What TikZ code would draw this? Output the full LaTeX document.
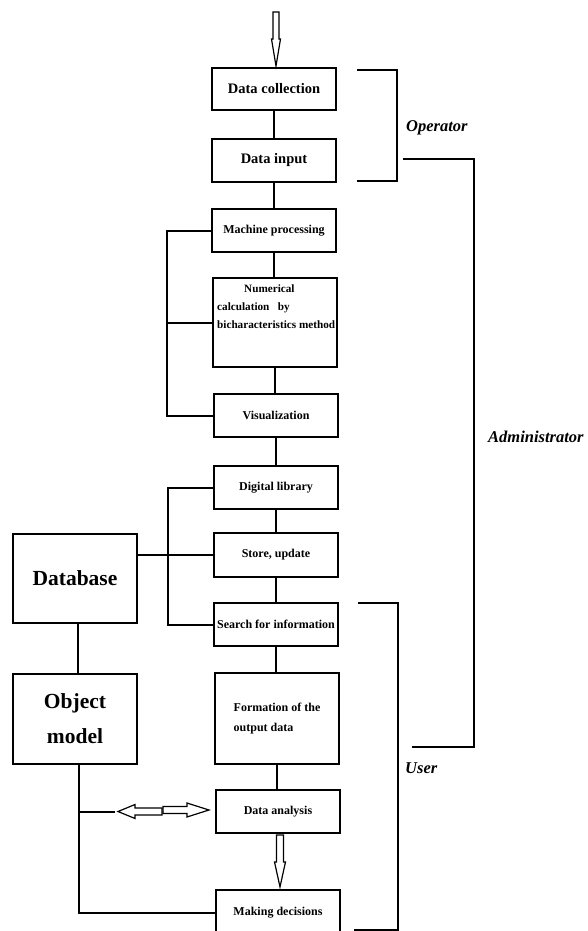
\documentclass[tikz,border=0pt]{standalone}
\usepackage{fontspec}
\setmainfont{Liberation Serif}
\begin{document}
\begin{tikzpicture}[x=1pt,y=-1pt,
  box/.style={draw,line width=2.1pt,inner sep=0pt,align=center,
    font=\bfseries\fontsize{12}{14}\selectfont},
  bigtxt/.style={font=\bfseries\fontsize{14.5}{16}\selectfont},
  hugetxt/.style={font=\bfseries\fontsize{21.5}{35}\selectfont},
  conn/.style={line width=2pt},
  brk/.style={line width=2pt},
  role/.style={font=\bfseries\itshape\fontsize{16.5}{20}\selectfont,inner sep=0pt},
  hollow/.style={draw,line width=1.2pt,fill=white,line join=miter}]
\useasboundingbox (0,0) rectangle (588,931);

% main column
\node[box,bigtxt,minimum width=124pt,minimum height=42pt] (dc) at (274,89) {Data collection};
\node[box,bigtxt,minimum width=124pt,minimum height=43pt] (di) at (274,160.5) {Data input};
\node[box,minimum width=124pt,minimum height=43pt] (mp) at (274,230.5) {Machine processing};
\node[box,minimum width=124pt,minimum height=89pt] (nc) at (275,322.5) {};
\node[anchor=north west,align=left,inner sep=0pt,
  font=\bfseries\fontsize{11.2}{18}\selectfont] (nctext) at (217,285)
  {\hspace*{27pt}Numerical\\calculation\ \ \ by\\bicharacteristics method};
\node[box,minimum width=124pt,minimum height=43pt] (vis) at (276,415.5) {Visualization};
\node[box,minimum width=124pt,minimum height=43pt] (dl) at (276,487.5) {Digital library};
\node[box,minimum width=124pt,minimum height=44pt] (su) at (276,555) {Store, update};
\node[box,minimum width=124pt,minimum height=43pt] (sfi) at (276,624.5) {Search for information};
\node[box,align=left,minimum width=124pt,minimum height=91pt,
  font=\bfseries\fontsize{12}{20}\selectfont] (fod) at (277,718.5) {Formation of the\\output data};
\node[box,minimum width=124pt,minimum height=43pt] (da) at (278,811.5) {Data analysis};
\node[box,minimum width=124pt,minimum height=46pt] (md) at (278,913) {Making decisions};

% left column
\node[box,hugetxt,minimum width=124pt,minimum height=89pt] (db) at (75,578.5) {Database};
\node[box,hugetxt,minimum width=124pt,minimum height=90pt] (om) at (75,719) {Object\\model};

% vertical connectors
\draw[conn] (dc.south) -- (dc.south |- di.north);
\draw[conn] (di.south) -- (di.south |- mp.north);
\draw[conn] (mp.south) -- (mp.south |- nc.north);
\draw[conn] (nc.south) -- (nc.south |- vis.north);
\draw[conn] (vis.south) -- (vis.south |- dl.north);
\draw[conn] (dl.south) -- (dl.south |- su.north);
\draw[conn] (su.south) -- (su.south |- sfi.north);
\draw[conn] (sfi.south) -- (sfi.south |- fod.north);
\draw[conn] (fod.south) -- (fod.south |- da.north);

% left brackets
\draw[conn] (mp.west) -- ++(-44,0) |- (vis.west);
\draw[conn] (nc.west) -- ++(-45,0);
\draw[conn] (dl.west) -- ++(-45,0) |- (sfi.west);
\draw[conn] (db.east |- su.west) -- (su.west);
\draw[conn] ([xshift=3pt]db.south) -- ([xshift=3pt]om.north);
\coordinate (omb) at ([xshift=4pt]om.south);
\draw[conn] (omb) |- (md.west);
\coordinate (brx) at (omb |- da.west);
\draw[conn] (brx) -- ++(36,0);

% top input arrow
\path (dc.north) ++(2,-1) coordinate (t1);
\draw[hollow] (t1) -- ++(-4.5,-27) -- ++(1.5,0) -- ++(0,-27) -- ++(6,0)
  -- ++(0,27) -- ++(1.5,0) -- cycle;

% arrow data analysis -> making decisions
\path (md.north) ++(2,-2) coordinate (t2);
\draw[hollow] (t2) -- ++(-5.5,-25) -- ++(2,0) -- ++(0,-27) -- ++(7,0)
  -- ++(0,27) -- ++(2,0) -- cycle;

% double hollow arrow
\path (da.west) ++(-6,-1.5) coordinate (t3);
\path (brx) ++(39,0) coordinate (t4);
\draw[hollow] (t4) -- ++(17,-7) -- ++(0,3.5) -- ++(27,0) -- ++(0,7)
  -- ++(-27,0) -- ++(0,3.5) -- cycle;
\draw[hollow] (t3) -- ++(-22,-7) -- ++(0,3.5) -- ++(-24,0) -- ++(0,7)
  -- ++(24,0) -- ++(0,3.5) -- cycle;

% role brackets
\coordinate (op1) at (357,70);
\coordinate (op2) at (397,181);
\draw[brk] (op1) -| (op2) -- ++(-40,0);
\node[role,anchor=west] (oplab) at (406,128) {Operator};

\coordinate (ad1) at (403,159);
\coordinate (ad2) at (474,747);
\draw[brk] (ad1) -| (ad2) -- ++(-62,0);
\node[role,anchor=west] (adlab) at (488,437) {Administrator};

\coordinate (us1) at (358,603);
\coordinate (us2) at (398,930);
\draw[brk] (us1) -| (us2) -- ++(-44,0);
\node[role,anchor=west] (uslab) at (405,768) {User};
\end{tikzpicture}
\end{document}
